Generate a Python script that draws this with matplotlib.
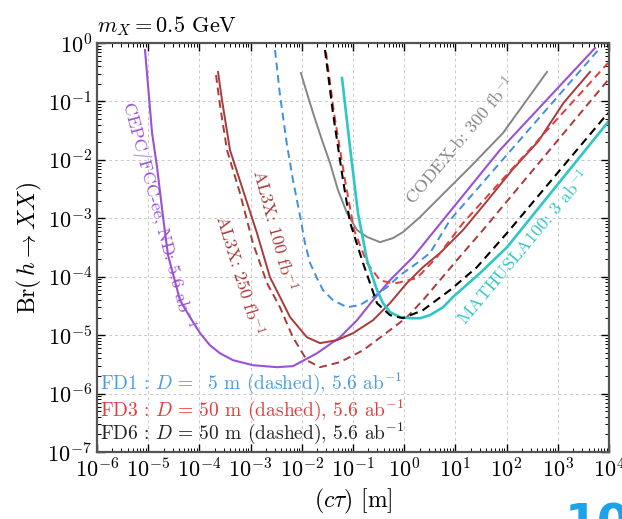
import numpy as np
import matplotlib
matplotlib.use("Agg")
import matplotlib.pyplot as plt
from matplotlib.ticker import LogLocator, NullFormatter

plt.rcParams["font.family"] = "serif"
plt.rcParams["font.serif"] = ["cmr10"]
plt.rcParams["mathtext.fontset"] = "cm"
plt.rcParams["axes.formatter.use_mathtext"] = True

# --- curves (c*tau in m, Br) ---
cepc_ct = [8.66e-6, 1.19e-5, 1.49e-5, 1.95e-5, 2.44e-5, 4.18e-5, 6.55e-5, 1.03e-4, 1.61e-4,
           2.52e-4, 4.53e-4, 1.11e-3, 3.28e-3, 6.73e-3, 0.0198, 0.0557, 0.120, 0.246,
           0.528, 1.49, 5.73, 74, 5330]
cepc_br = [0.76, 0.0288, 7.5e-3, 1.05e-3, 2.34e-4, 3.97e-5, 2.03e-5, 1.08e-5, 6.7e-6,
           4.9e-6, 3.73e-6, 3.06e-6, 2.83e-6, 2.95e-6, 4.9e-6, 9.2e-6, 1.8e-5, 3.97e-5,
           8.7e-5, 2.17e-4, 9.3e-4, 0.0147, 0.82]

fd1_ct = [3.0e-3, 3.75e-3, 5.14e-3, 6.73e-3, 9.2e-3, 0.01153, 0.0145, 0.0198, 0.0259, 0.0406,
          0.0763, 0.137, 0.246, 0.461, 0.83, 1.78, 3.19, 7.85, 6670]
fd1_br = [0.76, 0.129, 0.0179, 4.5e-3, 1.13e-3, 3.76e-4, 1.71e-4, 9.5e-5, 5.9e-5, 3.97e-5,
          3.0e-5, 3.27e-5, 4.5e-5, 6.6e-5, 1.06e-4, 1.71e-4, 2.54e-4, 9.3e-4, 0.82]

al3x100_ct = [2.31e-4, 2.76e-4, 3.96e-4, 7.1e-4, 1.33e-3, 2.39e-3, 3.75e-3, 5.9e-3, 0.0126,
              0.0227, 0.0487, 0.1, 0.246, 0.528, 1.13, 2.33, 5.0, 14.1, 42, 130, 420, 1300, 4260]
al3x100_br = [0.32, 0.106, 0.0147, 3.04e-3, 5.6e-4, 9.8e-5, 4.5e-5, 2.03e-5, 9.2e-6,
              7.3e-6, 8.2e-6, 1.08e-5, 1.8e-5, 3.53e-5, 7.8e-5, 1.46e-4, 2.54e-4, 6.3e-4,
              2.0e-3, 6.8e-3, 0.021, 0.095, 0.32]

al3x250_ct = [2.11e-4, 2.52e-4, 3.46e-4, 6.2e-4, 1.11e-3, 2.09e-3, 3.75e-3, 6.7e-3, 0.0126,
              0.0227, 0.0557, 0.157, 0.528, 1.13, 2.33, 10.7, 34.6, 9550]
al3x250_br = [0.283, 0.0867, 0.0147, 2.7e-3, 3.76e-4, 7.8e-5, 3.0e-5, 9.2e-6, 3.7e-6,
              2.83e-6, 3.45e-6, 5.5e-6, 1.22e-5, 2.03e-5, 3.97e-5, 1.92e-4, 6.3e-4, 0.232]

fd3_ct = [0.0297, 0.0426, 0.0698, 0.105, 0.188, 0.337, 0.528, 0.72, 1.78, 4.37, 14.1, 9550]
fd3_br = [0.70, 0.0633, 4.5e-3, 6.3e-4, 1.71e-4, 8.7e-5, 7.9e-5, 7.8e-5, 9.5e-5, 2.17e-4,
          8.3e-4, 0.455]

fd6_ct = [0.0284, 0.0406, 0.0638, 0.0873, 0.157, 0.294, 0.528, 0.948, 2.33, 7.85, 26.4, 102, 9550]
fd6_br = [0.76, 0.0633, 4.5e-3, 8.6e-4, 1.71e-4, 3.53e-5, 2.2e-5, 1.95e-5, 2.68e-5, 5.9e-5,
          1.46e-4, 5.6e-4, 0.0633]

math_ct = [0.061, 0.0873, 0.125, 0.188, 0.294, 0.385, 0.528, 0.83, 1.30, 2.04, 3.19, 5.73,
           8.97, 30.2, 102, 9550]
math_br = [0.252, 0.0166, 1.23e-3, 1.92e-4, 5.9e-5, 3.53e-5, 2.48e-5, 2.03e-5, 1.95e-5,
           1.95e-5, 2.2e-5, 3.0e-5, 4.5e-5, 1.15e-4, 3.2e-4, 0.0444]

codex_ct = [9.6e-3, 0.0126, 0.0166, 0.0248, 0.0356, 0.0509, 0.0763, 0.120, 0.188, 0.337,
            0.604, 0.948, 2.04, 4.37, 19.3, 85, 615]
codex_br = [0.306, 0.139, 0.0633, 0.0218, 8.8e-3, 3.04e-3, 1.23e-3, 6.3e-4, 4.8e-4, 3.9e-4,
            4.58e-4, 5.8e-4, 1.05e-3, 2.05e-3, 7.5e-3, 0.0288, 0.32]

PURPLE = "#9a52d4"
BLUE = "#3f8fe0"
DARKRED = "#a83a3a"
RED = "#e23c3a"
CYAN = "#2fc6c6"
GRAY = "#858585"
DASH = (0, (4, 2.5))

fig = plt.figure(figsize=(6.22, 5.19), dpi=100)
ax = fig.add_axes([97 / 622, 1 - 452 / 519, 512 / 622, 409 / 519])

ax.plot(codex_ct, codex_br, color=GRAY, lw=1.4)
ax.plot(cepc_ct, cepc_br, color=PURPLE, lw=1.5)
ax.plot(fd1_ct, fd1_br, color=BLUE, lw=1.4, ls=DASH)
ax.plot(al3x100_ct, al3x100_br, color=DARKRED, lw=1.4)
ax.plot(al3x250_ct, al3x250_br, color=DARKRED, lw=1.4, ls=DASH)
ax.plot(fd3_ct, fd3_br, color=RED, lw=1.4, ls=DASH)
ax.plot(math_ct, math_br, color=CYAN, lw=1.9)
ax.plot(fd6_ct, fd6_br, color="black", lw=1.5, ls=DASH)

ax.set_xscale("log")
ax.set_yscale("log")
ax.set_xlim(1e-6, 1e4)
ax.set_ylim(1e-7, 1e0)

for a in (ax.xaxis, ax.yaxis):
    a.set_major_locator(LogLocator(base=10, numticks=30))
    a.set_minor_locator(LogLocator(base=10, subs=np.arange(2, 10), numticks=300))
    a.set_minor_formatter(NullFormatter())
ax.tick_params(which="both", direction="in", top=True, right=True, labelsize=16)
ax.tick_params(which="major", length=6, width=1.0)
ax.tick_params(which="minor", length=3, width=0.7)
ax.grid(True, which="major", ls=(0, (3, 3)), lw=0.7, color="#c8c8c8")
for s in ax.spines.values():
    s.set_linewidth(1.6)
    s.set_color("#555555")

ax.set_xlabel(r"$(c\tau)$ [m]", fontsize=17, labelpad=4)
ax.set_ylabel(r"Br$(\,h \rightarrow XX)$", fontsize=17, labelpad=2)
ax.set_title(r"$m_X = 0.5$ GeV", loc="left", fontsize=16, pad=8)

ax.text(1.49e-5, 1.13e-3, r"CEPC/FCC-ee, ND: 5.6 ab$^{-1}$", color=PURPLE, fontsize=13,
        rotation=-75, ha="center", va="center")
ax.text(2.9e-3, 6.3e-4, r"AL3X: 100 fb$^{-1}$", color=DARKRED, fontsize=13,
        rotation=-75, ha="center", va="center")
ax.text(6.2e-4, 1.06e-4, r"AL3X: 250 fb$^{-1}$", color=DARKRED, fontsize=13,
        rotation=-73, ha="center", va="center")
ax.text(12.3, 0.0218, r"CODEX-b: 300 fb$^{-1}$", color=GRAY, fontsize=13,
        rotation=50, ha="center", va="center")
ax.text(209, 3.2e-4, r"MATHUSLA100: 3 ab$^{-1}$", color=CYAN, fontsize=13,
        rotation=50, ha="center", va="center")

ax.text(0.006, 0.169, r"FD1$\,:\,D\,=\ \ 5$ m (dashed), 5.6 ab$^{-1}$", color="#4a9be6",
        fontsize=14, transform=ax.transAxes, va="center")
ax.text(0.006, 0.103, r"FD3$\,:\,D\,=\,50$ m (dashed), 5.6 ab$^{-1}$", color=RED,
        fontsize=14, transform=ax.transAxes, va="center")
ax.text(0.006, 0.046, r"FD6$\,:\,D\,=\,50$ m (dashed), 5.6 ab$^{-1}$", color="#222222",
        fontsize=14, transform=ax.transAxes, va="center")

# slide number peeking in at the bottom edge
fig.text(565 / 622, 1 - 503 / 519, "10", color="#1aa3e8", fontsize=34, weight="bold",
         family="DejaVu Sans", ha="left", va="top")

fig.savefig("out.png", dpi=100)
